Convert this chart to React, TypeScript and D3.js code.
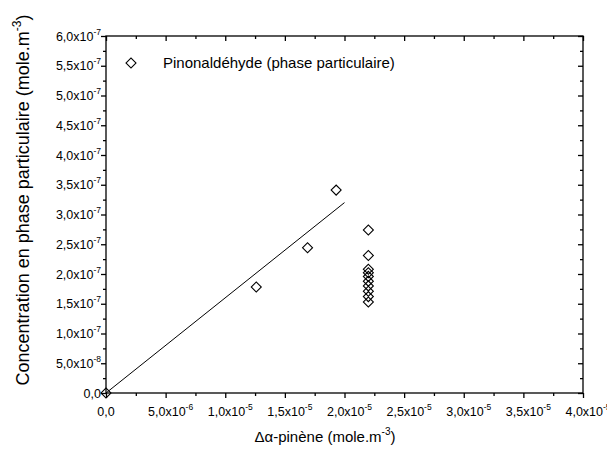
import { useEffect, useRef } from "react"
import * as d3 from "d3"

// Points
const xValues = [0, 1.26e-5, 1.69e-5, 1.93e-5, 2.2e-5, 2.2e-5, 2.2e-5, 2.2e-5, 2.2e-5, 2.2e-5, 2.2e-5, 2.2e-5, 2.2e-5, 2.2e-5]
const yValues = [0, 1.78e-7, 2.44e-7, 3.41e-7, 2.74e-7, 2.31e-7, 2.08e-7, 2.02e-7, 1.96e-7, 1.88e-7, 1.8e-7, 1.71e-7, 1.62e-7, 1.53e-7]

// Linear fit drawn as a straight segment
const fitX = [0, 2.0e-5]
const fitY = [0, 3.2e-7]

const xTicks = [0, 5e-6, 1e-5, 1.5e-5, 2e-5, 2.5e-5, 3e-5, 3.5e-5, 4e-5]
const yTicks = [0, 5e-8, 1e-7, 1.5e-7, 2e-7, 2.5e-7, 3e-7, 3.5e-7, 4e-7, 4.5e-7, 5e-7, 5.5e-7, 6e-7]

const legendLabel = "Pinonaldéhyde (phase particulaire)"

function splitSci(v: number): [string, string] {
  if (v === 0) return ["0,0", ""]
  const e = Math.floor(Math.log10(v) + 1e-9)
  const m = v / Math.pow(10, e)
  return [m.toFixed(1).replace(".", ",") + "x10", String(e)]
}

export default function App() {
  const svgRef = useRef<SVGSVGElement>(null)

  useEffect(() => {
    if (!svgRef.current) return
    d3.select(svgRef.current).selectAll("*").remove()

    const W = 607
    const H = 454
    const left = 106
    const right = 583
    const top = 36
    const bottom = 393
    const font = "Arial, 'Liberation Sans', sans-serif"

    const svg = d3.select(svgRef.current).attr("width", W).attr("height", H)
    svg.append("rect").attr("width", W).attr("height", H).attr("fill", "#fff")

    const x = d3.scaleLinear().domain([0, 4e-5]).range([left, right])
    const y = d3.scaleLinear().domain([0, 6e-7]).range([bottom, top])

    // minor ticks halfway between majors
    const xMinor = xTicks.slice(0, -1).map((d, i) => (d + xTicks[i + 1]) / 2)
    const yMinor = yTicks.slice(0, -1).map((d, i) => (d + yTicks[i + 1]) / 2)

    const styleAxis = (g: d3.Selection<SVGGElement, unknown, null, undefined>) => {
      g.select(".domain").remove()
      g.selectAll("text").remove()
      g.selectAll("line").attr("stroke", "#000").attr("stroke-width", 1.3)
    }

    const addAxis = (axis: d3.Axis<d3.NumberValue>, tx: number, ty: number) => {
      svg
        .append("g")
        .attr("transform", `translate(${tx},${ty})`)
        .call(axis)
        .call(styleAxis)
    }

    // bottom & left: outward ticks, top & right: inward
    addAxis(d3.axisBottom(x).tickValues(xTicks).tickSize(5), 0, bottom)
    addAxis(d3.axisBottom(x).tickValues(xMinor).tickSize(3), 0, bottom)
    addAxis(d3.axisTop(x).tickValues(xTicks).tickSize(-5), 0, top)
    addAxis(d3.axisTop(x).tickValues(xMinor).tickSize(-3), 0, top)
    addAxis(d3.axisLeft(y).tickValues(yTicks).tickSize(5), left, 0)
    addAxis(d3.axisLeft(y).tickValues(yMinor).tickSize(3), left, 0)
    addAxis(d3.axisRight(y).tickValues(yTicks).tickSize(-5), right, 0)
    addAxis(d3.axisRight(y).tickValues(yMinor).tickSize(-3), right, 0)

    // frame
    svg
      .append("rect")
      .attr("x", left)
      .attr("y", top)
      .attr("width", right - left)
      .attr("height", bottom - top)
      .attr("fill", "none")
      .attr("stroke", "#000")
      .attr("stroke-width", 1.3)

    // x tick labels (base text centred on the tick, exponent hangs to the right)
    xTicks.forEach((d) => {
      const [base, exp] = splitSci(d)
      const t = svg
        .append("text")
        .attr("x", x(d) + (exp ? 5 : 0))
        .attr("y", bottom + 23)
        .attr("text-anchor", "middle")
        .attr("font-family", font)
        .attr("font-size", 12.5)
        .attr("fill", "#000")
      t.append("tspan").text(base)
      if (exp) t.append("tspan").attr("font-size", 8.5).attr("dy", -6).text(exp)
    })

    // y tick labels
    yTicks.forEach((d) => {
      const [base, exp] = splitSci(d)
      const t = svg
        .append("text")
        .attr("x", left - 5)
        .attr("y", y(d) + 4.5)
        .attr("text-anchor", "end")
        .attr("font-family", font)
        .attr("font-size", 12.5)
        .attr("fill", "#000")
      t.append("tspan").text(base)
      if (exp) t.append("tspan").attr("font-size", 8.5).attr("dy", -6).text(exp)
    })

    // axis titles
    const xt = svg
      .append("text")
      .attr("x", 325)
      .attr("y", 442)
      .attr("text-anchor", "middle")
      .attr("font-family", font)
      .attr("font-size", 15)
      .attr("fill", "#000")
    xt.append("tspan").text("Δα-pinène (mole.m")
    xt.append("tspan").attr("font-size", 10).attr("dy", -7).text("-3")
    xt.append("tspan").attr("dy", 7).text(")")

    const yt = svg
      .append("text")
      .attr("transform", `translate(29,200) rotate(-90)`)
      .attr("text-anchor", "middle")
      .attr("font-family", font)
      .attr("font-size", 18)
      .attr("fill", "#000")
    yt.append("tspan").text("Concentration en phase particulaire (mole.m")
    yt.append("tspan").attr("font-size", 12).attr("dy", -8).text("-3")
    yt.append("tspan").attr("dy", 8).text(")")

    // fit line
    const line = d3
      .line<number>()
      .x((d) => x(fitX[d]))
      .y((d) => y(fitY[d]))
    svg
      .append("path")
      .attr("d", line(fitX.map((_, i) => i)))
      .attr("fill", "none")
      .attr("stroke", "#000")
      .attr("stroke-width", 1)

    // diamonds
    const diamond = d3.symbol().type(d3.symbolSquare).size(50)
    svg
      .selectAll(".pt")
      .data(xValues.map((d, i) => ({ x: d, y: yValues[i] })))
      .enter()
      .append("path")
      .attr("class", "pt")
      .attr("d", diamond)
      .attr("transform", (d) => `translate(${x(d.x)},${y(d.y)}) rotate(45)`)
      .attr("fill", "none")
      .attr("stroke", "#000")
      .attr("stroke-width", 1.1)

    // legend
    svg
      .append("path")
      .attr("d", diamond)
      .attr("transform", `translate(131,63) rotate(45)`)
      .attr("fill", "none")
      .attr("stroke", "#000")
      .attr("stroke-width", 1.1)
    svg
      .append("text")
      .attr("x", 163)
      .attr("y", 68)
      .attr("font-family", font)
      .attr("font-size", 15)
      .attr("fill", "#000")
      .text(legendLabel)
  }, [])

  return (
    <div style={{ position: "fixed", left: 0, top: 0 }}>
      <svg ref={svgRef} style={{ display: "block" }}></svg>
    </div>
  )
}
